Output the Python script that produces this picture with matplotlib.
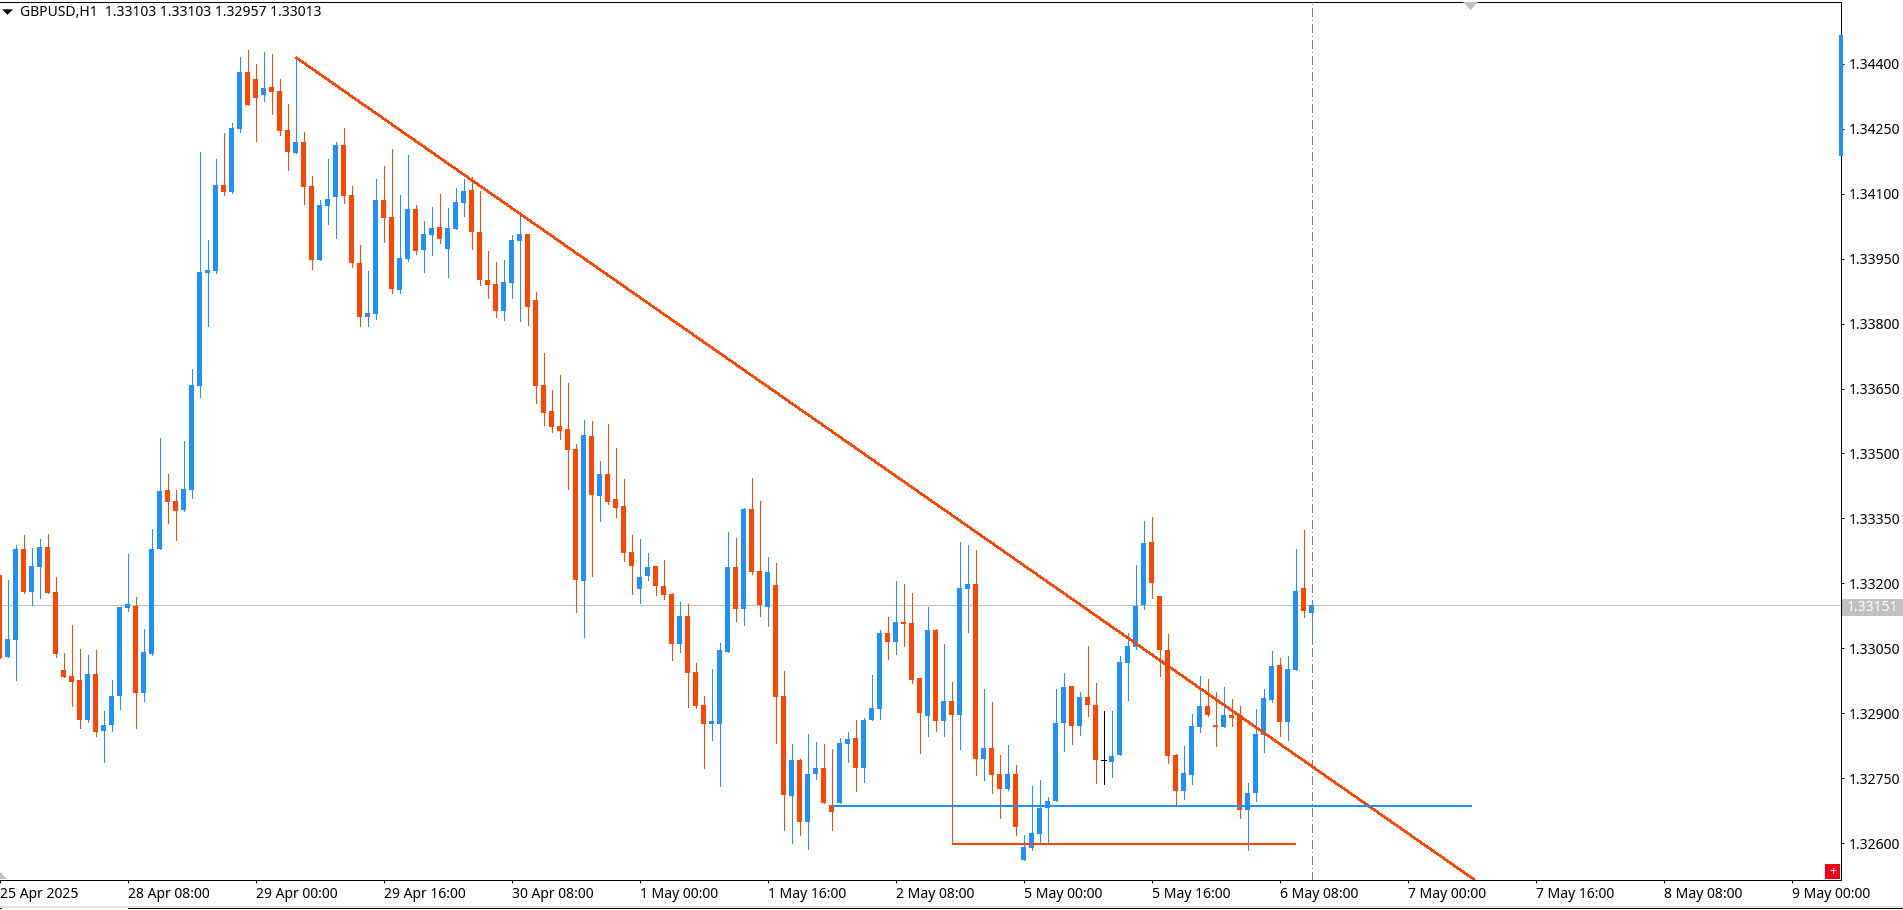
import numpy as np
import matplotlib
matplotlib.use("Agg")
import matplotlib.pyplot as plt
from matplotlib.patches import Polygon, Rectangle

plt.rcParams['font.family'] = ['Noto Sans', 'DejaVu Sans']

# hourly GBPUSD bars, prices in 1e-5 units
opens = [133220,133031,133070,133280,133181,133239,133284,133180,133000,132987,132977,132886,132991,132860,132874,
         132940,133144,133148,132947,133037,133280,133416,133390,133370,133416,133656,133916,133921,134120,134103,
         134249,134380,134364,134327,134346,134337,134247,134193,134219,134117,133946,134071,134092,134212,134097,
         133940,133815,133822,134085,134046,133877,133949,134064,133970,134004,134023,133972,134018,134078,134108,
         134011,133900,133891,133829,133894,133990,134007,133854,133658,133598,133564,133557,133510,133206,133540,
         133402,133453,133395,133379,133273,133187,133217,133240,133194,133176,133060,133125,132996,132920,132876,
         132876,133042,133238,133141,133372,133229,133146,133197,132940,132710,132793,132650,132760,132774,132689,
         132694,132830,132844,132774,132885,132910,133086,133065,133111,133109,132982,132894,133093,132883,132929,
         132897,133187,133199,132795,132820,132760,132726,132760,132562,132590,132622,132682,132698,132878,132964,
         132871,132938,132920,132792,132788,132804,133017,133054,133150,133296,133171,133047,132804,132721,132758,
         132869,132917,132874,132869,132897,132897,132677,132717,132850,132931,133012,132880,133000,133190,133132]
highs = [133220,133208,133289,133312,133282,133303,133314,133215,133040,133104,133049,133035,133047,132906,132977,
         133146,133268,133169,133095,133326,133536,133453,133416,133529,133695,134196,133993,134180,134240,134263,
         134415,134431,134399,134427,134422,134364,134307,134413,134242,134140,134085,134180,134219,134251,134117,
         133981,133921,134133,134163,134203,134097,134189,134073,134036,134069,134099,134066,134113,134134,134138,
         134106,133967,133942,133947,134004,134053,134007,133873,133732,133647,133681,133663,133522,133577,133575,
         133483,133568,133513,133441,133312,133303,133270,133240,133254,133178,133157,133153,133017,132940,133003,
         133063,133319,133305,133374,133444,133390,133261,133247,132998,132830,132795,132853,132834,132830,132818,
         132844,132857,132885,132890,132989,133093,133123,133206,133199,133178,132982,133146,133095,133060,132973,
         133296,133289,133277,132957,132927,132804,132827,132781,132620,132733,132747,132707,132957,132994,132964,
         132950,133056,132970,132906,132906,133033,133086,133243,133344,133354,133171,133084,132807,132825,132899,
         132987,132980,132950,132961,132934,132917,132740,132910,132957,133044,133028,133033,133280,133323,133160]
lows = [133029,133031,132978,133178,133150,133167,133178,133030,132984,132917,132867,132880,132848,132788,132860,
        132910,133137,132867,132929,133035,133280,133340,133300,133367,133397,133630,133794,133916,134097,134101,
        134242,134304,134221,134313,134283,134235,134154,134193,134076,133926,133946,134030,133997,134078,133930,
        133794,133794,133810,133988,133870,133870,133944,133960,133919,133958,133986,133907,134018,134048,133972,
        133889,133859,133815,133808,133859,133806,133797,133617,133566,133550,133534,133418,133134,133077,133217,
        133344,133384,133354,133252,133176,133155,133208,133174,133164,133024,133042,132915,132913,132774,132839,
        132733,133042,133114,133104,133222,133125,133102,132832,132631,132601,132620,132587,132749,132694,132631,
        132694,132788,132721,132742,132885,132887,133026,133037,133056,132970,132809,132848,132860,132848,132897,
        132818,133088,132758,132747,132717,132659,132724,132620,132562,132585,132599,132601,132698,132814,132830,
        132850,132894,132740,132737,132754,132804,132931,133049,133141,133167,132987,132786,132687,132703,132737,
        132857,132894,132825,132869,132871,132659,132585,132698,132811,132927,132848,132839,133000,133123,133060]
closes = [133029,133072,133280,133180,133240,133284,133178,133038,132984,132973,132886,132991,132857,132874,132940,
          133146,133153,132947,133042,133280,133414,133388,133367,133418,133658,133919,133923,134120,134103,134251,
          134380,134304,134320,134343,134334,134244,134196,134219,134115,133946,134073,134087,134212,134094,133940,
          133815,133824,134085,134043,133880,133951,134064,133967,134006,134020,133995,134020,134080,134106,134011,
          133900,133889,133829,133896,133993,134007,133838,133656,133594,133561,133552,133508,133208,133543,133404,
          133453,133388,133374,133270,133240,133215,133238,133194,133174,133060,133125,132994,132917,132876,132883,
          133047,133238,133141,133372,133227,133150,133227,132938,132712,132793,132650,132760,132774,132694,132673,
          132832,132841,132774,132885,132913,133086,133065,133111,133107,132977,132901,133093,132883,132929,132897,
          133190,133199,132795,132820,132758,132726,132760,132638,132592,132624,132682,132698,132878,132961,132871,
          132938,132920,132793,132792,132802,133019,133056,133148,133294,133201,133047,132802,132721,132763,132871,
          132917,132897,132869,132897,132890,132677,132717,132853,132936,133010,132880,133003,133183,133137,133151]

# horizontal and trend levels: [bar, price]
trend_bars = [37, 184.3]
trend_prices = [1.34414, 1.32517]
blue_level = 1.32687
blue_bars = [104, 184]
red_level = 1.32599
red_bars = [119, 162]
red_start_price = 1.32897
last_price = 1.33151
side_range = [1.341872, 1.344658]
now_bar = 164

y_ticks = [1.326 + 0.0015 * i for i in range(13)]
x_tick_bars = list(range(0, 225, 16))
x_tick_labels = ["25 Apr 2025", "28 Apr 08:00", "29 Apr 00:00", "29 Apr 16:00", "30 Apr 08:00",
                 "1 May 00:00", "1 May 16:00", "2 May 08:00", "5 May 00:00", "5 May 16:00",
                 "6 May 08:00", "7 May 00:00", "7 May 16:00", "8 May 08:00", "9 May 00:00"]
header = "GBPUSD,H1  1.33103 1.33103 1.32957 1.33013"

BLUE = "#1E90FF"
RED = "#FF4500"
GREY = "#C0C0C0"
W, H = 1903, 910
PX = 0.72  # one pixel in points at 100 dpi
FS = 10.05

o = np.array(opens) / 1e5
h = np.array(highs) / 1e5
l = np.array(lows) / 1e5
c = np.array(closes) / 1e5
bars = np.arange(len(o))


def fx(x):
    return x / W


def fy(y):
    return 1 - y / H


fig = plt.figure(figsize=(W / 100, H / 100), dpi=100, facecolor="white")
ax = fig.add_axes([0, fy(879.5), fx(1840.5), (879.5 - 1.5) / H])
ax.set_xlim(0.0625, 230.125)
ax.set_ylim(1.325169, 1.345431)

colors = [BLUE if b > a else RED if b < a else "black" for a, b in zip(o, c)]

# bid line sits behind the candles
ax.axhline(last_price, color=GREY, lw=PX, zorder=1, antialiased=False)

# candles
ax.vlines(bars, l, h, colors=colors, lw=PX, zorder=2, antialiased=False)
moved = o != c
ax.bar(bars[moved], np.abs(c - o)[moved], bottom=np.minimum(o, c)[moved], width=5 / 8,
       color=np.array(colors)[moved], linewidth=0, zorder=3, antialiased=False)
ax.hlines(o[~moved], bars[~moved] - 2.5 / 8, bars[~moved] + 2.5 / 8, colors="black",
          lw=PX, zorder=3, antialiased=False)

# current bar marker
ax.axvline(now_bar, color="#808080", lw=PX, ls=(0, (9, 4, 1, 4)), zorder=2, antialiased=False)

# drawn objects
ax.plot(trend_bars, trend_prices, color=RED, lw=1.4 * PX, zorder=4, antialiased=False,
        solid_capstyle="butt")
ax.plot(blue_bars, [blue_level, blue_level], color=BLUE, lw=2 * PX, zorder=4, antialiased=False,
        solid_capstyle="butt")
ax.plot(red_bars, [red_level, red_level], color=RED, lw=2 * PX, zorder=4, antialiased=False,
        solid_capstyle="butt")
ax.plot([red_bars[0], red_bars[0]], [red_start_price, red_level], color=RED, lw=PX, zorder=4,
        antialiased=False)

# axes
for side in ["top", "right", "bottom"]:
    ax.spines[side].set_linewidth(PX)
    ax.spines[side].set_color("black")
ax.spines["left"].set_visible(False)

ax.yaxis.tick_right()
ax.set_yticks(y_ticks)
ax.set_yticklabels(["%.5f" % v for v in y_ticks])
ax.tick_params(axis="y", length=3 * PX, width=PX, pad=3.6, labelsize=FS, colors="black")
ax.set_xticks(x_tick_bars)
ax.set_xticklabels(x_tick_labels, ha="left")
ax.tick_params(axis="x", length=3 * PX, width=PX, pad=3.2, labelsize=FS, colors="black")

# thick range bar on the price scale
ax.vlines(1, side_range[0], side_range[1], colors=BLUE, lw=4 * PX, transform=ax.get_yaxis_transform(),
          clip_on=False, zorder=6, antialiased=False)

# last price label
fig.add_artist(Rectangle((fx(1842), fy(615.7)), fx(61), 16.7 / H, transform=fig.transFigure,
                         facecolor=GREY, edgecolor="none"))
fig.text(fx(1847), fy(607.5), "%.5f" % last_price, color="white", fontsize=FS, va="center", ha="left")

# header line with its small arrow
fig.add_artist(Polygon([(fx(2), fy(9.3)), (fx(13), fy(9.3)), (fx(7.5), fy(14.8))], closed=True,
                       transform=fig.transFigure, facecolor="black", edgecolor="none"))
fig.text(fx(20), fy(13), header, color="black", fontsize=FS, va="center", ha="left")

# shift marker, scroll corner and the small plus button
fig.add_artist(Polygon([(fx(1463), fy(2)), (fx(1478), fy(2)), (fx(1470.5), fy(10))], closed=True,
                       transform=fig.transFigure, facecolor=GREY, edgecolor="none"))
fig.add_artist(Polygon([(0, fy(872)), (fx(7), fy(879)), (0, fy(879))], closed=True,
                       transform=fig.transFigure, facecolor=GREY, edgecolor="none"))
fig.add_artist(Rectangle((fx(1825), fy(879)), fx(15), 15 / H, transform=fig.transFigure,
                         facecolor="#F0051E", edgecolor="none"))
fig.text(fx(1832.5), fy(871.5), "+", color="white", fontsize=9, fontweight="bold", va="center", ha="center")

# window frame at the bottom
fig.add_artist(Rectangle((0, fy(907.5)), 1, 2 / H, transform=fig.transFigure, facecolor="#E0E0E0",
                         edgecolor="none"))
fig.add_artist(Rectangle((fx(128), fy(909)), 1, 1 / H, transform=fig.transFigure, facecolor="black",
                         edgecolor="none"))
fig.add_artist(Rectangle((0, fy(909)), fx(2), 1 / H, transform=fig.transFigure, facecolor="black",
                         edgecolor="none"))

fig.savefig("out.png", dpi=100)
